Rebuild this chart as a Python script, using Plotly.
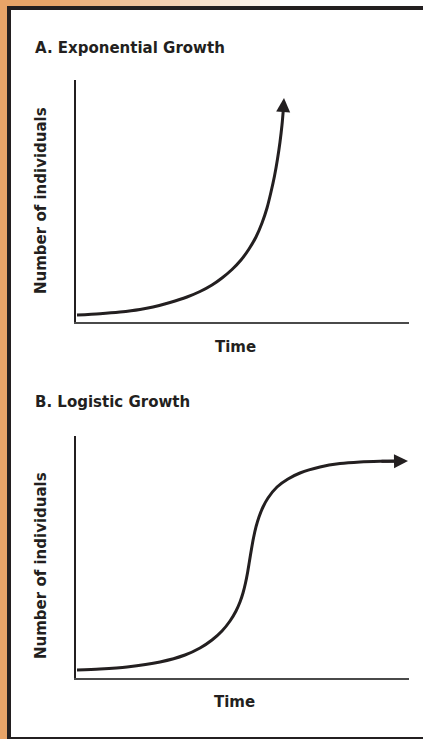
import plotly.graph_objects as go

W, H = 423, 739

# Exponential growth: time vs. population size
exp_time = [0.030, 0.721, 1.321, 1.922, 2.312, 2.823, 3.333, 3.724, 4.084, 4.384, 4.685,
            4.955, 5.195, 5.405, 5.586, 5.736, 5.856, 5.961, 6.051, 6.126, 6.186, 6.225,
            6.240, 6.246]
exp_pop = [2.89, 3.43, 4.13, 5.17, 6.20, 8.06, 10.33, 12.60, 15.29, 18.18, 21.69,
           25.62, 30.17, 35.12, 40.91, 47.11, 53.72, 60.33, 67.36, 74.38, 81.40, 87.60,
           90.50, 92.56]

# Logistic growth: time vs. population size
log_time = [0.030, 0.721, 1.532, 2.523, 3.273, 3.724, 4.084, 4.384, 4.625, 4.805, 4.925,
            5.015, 5.090, 5.150, 5.210, 5.270, 5.330, 5.405, 5.495, 5.616, 5.766, 6.036,
            6.366, 6.727, 7.327, 7.928, 8.529, 9.129, 9.730, 9.970]
log_pop = [3.31, 3.72, 4.55, 6.61, 9.50, 12.40, 15.70, 19.42, 23.55, 27.69, 31.40,
           35.12, 39.26, 43.39, 48.35, 53.31, 57.85, 62.40, 66.53, 70.66, 74.38, 78.93,
           82.23, 84.71, 87.19, 88.60, 89.26, 89.55, 89.67, 89.67]

titles = ["A. Exponential Growth", "B. Logistic Growth"]
x_title = "Time"
y_title = "Number of individuals"

INK = "#231f20"
FONT = "DejaVu Sans, Arial, sans-serif"
ORANGE = "#e8a468"


def px(x):
    return x / W


def py(y):
    return 1 - y / H


fig = go.Figure()

panels = [
    dict(xa="x", ya="y", t=exp_time, p=exp_pop, top=80, bottom=322),
    dict(xa="x2", ya="y2", t=log_time, p=log_pop, top=436, bottom=678),
]

annotations = []
for i, pn in enumerate(panels):
    # curve runs up to just inside the arrowhead
    fig.add_trace(go.Scatter(
        x=pn["t"][:-1], y=pn["p"][:-1], xaxis=pn["xa"], yaxis=pn["ya"],
        mode="lines", line=dict(color=INK, width=3, shape="spline", smoothing=0.8),
        hoverinfo="skip", showlegend=False,
    ))
    # arrowhead at the end of the curve
    annotations.append(dict(
        x=pn["t"][-1], y=pn["p"][-1], ax=pn["t"][-3], ay=pn["p"][-3],
        xref=pn["xa"], yref=pn["ya"], axref=pn["xa"], ayref=pn["ya"],
        text="", showarrow=True, arrowhead=2, arrowsize=1.0, arrowwidth=2.8,
        arrowcolor=INK,
    ))

    sfx = "" if i == 0 else str(i + 1)
    fig.update_layout(**{
        "xaxis" + sfx: dict(
            domain=[px(76), px(409)], range=[0, 10], anchor="y" + sfx,
            showgrid=False, zeroline=False, showticklabels=False, ticks="",
            showline=True, linecolor="#4a4a4a", linewidth=2, fixedrange=True,
        ),
        "yaxis" + sfx: dict(
            domain=[py(pn["bottom"]), py(pn["top"])], range=[0, 100], anchor="x" + sfx,
            showgrid=False, zeroline=False, showticklabels=False, ticks="",
            showline=True, linecolor=INK, linewidth=1.6, fixedrange=True,
        ),
    })

# panel titles and axis titles
title_pos = [(33, 48), (33, 402)]
time_pos = [(235, 347), (234, 702)]
ylab_pos = [(41, 201), (41, 566)]
for i in range(2):
    annotations.append(dict(
        text=titles[i], xref="paper", yref="paper",
        x=px(title_pos[i][0]), y=py(title_pos[i][1]),
        xanchor="left", yanchor="middle", showarrow=False,
        font=dict(family=FONT, size=15, color=INK, weight="bold"),
    ))
    annotations.append(dict(
        text=x_title, xref="paper", yref="paper",
        x=px(time_pos[i][0]), y=py(time_pos[i][1]),
        xanchor="center", yanchor="middle", showarrow=False,
        font=dict(family=FONT, size=15, color=INK, weight="bold"),
    ))
    annotations.append(dict(
        text=y_title, xref="paper", yref="paper", textangle=-90,
        x=px(ylab_pos[i][0]), y=py(ylab_pos[i][1]),
        xanchor="center", yanchor="middle", showarrow=False,
        font=dict(family=FONT, size=15, color=INK, weight="bold"),
    ))

# page background: orange strip on the left and along the top, black frame
shapes = [
    dict(type="rect", xref="paper", yref="paper", x0=0, x1=px(9), y0=0, y1=1,
         fillcolor=ORANGE, line=dict(width=0), layer="below"),
]
steps = 12
for k in range(steps):
    a = 40 + k * 20
    shapes.append(dict(type="rect", xref="paper", yref="paper",
                       x0=px(0 if k == 0 else a), x1=px(a + 20), y0=py(7), y1=1,
                       fillcolor=ORANGE, opacity=1 - k / steps, line=dict(width=0),
                       layer="below"))
shapes += [
    dict(type="rect", xref="paper", yref="paper", x0=px(7), x1=px(11), y0=0, y1=py(6),
         fillcolor=INK, line=dict(width=0)),
    dict(type="rect", xref="paper", yref="paper", x0=px(7), x1=1, y0=py(10), y1=py(6),
         fillcolor=INK, line=dict(width=0)),
    dict(type="rect", xref="paper", yref="paper", x0=px(7), x1=1, y0=0, y1=py(737),
         fillcolor=INK, line=dict(width=0)),
]

fig.update_layout(
    width=W, height=H, margin=dict(l=0, r=0, t=0, b=0),
    paper_bgcolor="white", plot_bgcolor="rgba(0,0,0,0)",
    annotations=annotations, shapes=shapes, showlegend=False,
)

fig.write_html("out.html", config={"displayModeBar": False})
